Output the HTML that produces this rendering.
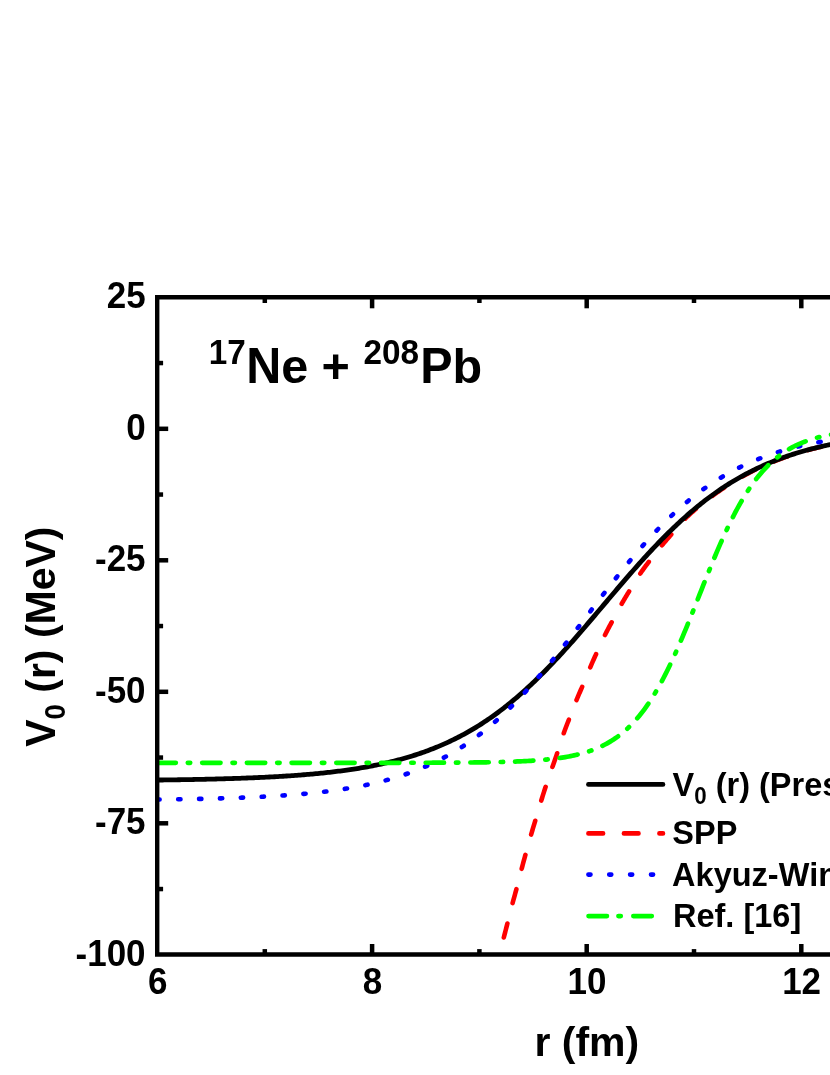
<!DOCTYPE html>
<html>
<head>
<meta charset="utf-8">
<title>17Ne + 208Pb</title>
<style>
html,body{margin:0;padding:0;background:#fff;}
body{width:830px;height:1075px;overflow:hidden;}
svg{display:block;will-change:transform;}
text{font-family:"Liberation Sans",sans-serif;font-weight:bold;fill:#000;font-kerning:none;white-space:pre;}
</style>
</head>
<body>
<svg width="830" height="1075" viewBox="0 0 830 1075">
<rect x="0" y="0" width="830" height="1075" fill="#fff"/>
<defs>
<clipPath id="plot"><rect x="157.5" y="297.3" width="830" height="657.2"/></clipPath>
</defs>

<!-- data curves -->
<g fill="none" stroke-linecap="round" stroke-linejoin="round" clip-path="url(#plot)">
<path d="M503.80,937.50 L504.07,936.46 L504.34,935.43 L504.61,934.39 L504.87,933.36 L505.14,932.32 L505.41,931.28 L505.68,930.25 L505.94,929.21 L506.21,928.17 L506.47,927.14 L506.73,926.10 L507.00,925.06 L507.26,924.03 L507.52,922.99 L507.78,921.95 L508.04,920.91 L508.30,919.87 L508.56,918.84 L508.82,917.80 L509.07,916.76 L509.33,915.72 L509.59,914.68 L509.85,913.64 L510.11,912.60 L510.37,911.57 L510.63,910.53 L510.90,909.49 L511.17,908.46 L511.44,907.42 L511.71,906.39 L511.98,905.35 L512.26,904.32 L512.53,903.29 L512.81,902.25 L513.10,901.22 L513.38,900.19 L513.67,899.16 L513.95,898.13 L514.24,897.10 L514.52,896.07 L514.81,895.04 L515.09,894.00 L515.38,892.97 L515.66,891.94 L515.94,890.91 L516.23,889.88 L516.51,888.85 L516.79,887.82 L517.07,886.78 L517.34,885.75 L517.62,884.71 L517.89,883.68 L518.15,882.64 L518.42,881.61 L518.68,880.57 L518.95,879.53 L519.21,878.50 L519.47,877.46 L519.73,876.42 L519.99,875.38 L520.25,874.35 L520.51,873.31 L520.77,872.27 L521.04,871.23 L521.30,870.20 L521.57,869.16 L521.84,868.13 L522.11,867.09 L522.38,866.05 L522.65,865.02 L522.93,863.99 L523.20,862.95 L523.48,861.92 L523.76,860.89 L524.04,859.85 L524.32,858.82 L524.60,857.79 L524.89,856.76 L525.18,855.73 L525.46,854.70 L525.75,853.66 L526.04,852.63 L526.32,851.60 L526.61,850.57 L526.89,849.54 L527.18,848.51 L527.46,847.48 L527.75,846.45 L528.03,845.41 L528.32,844.38 L528.61,843.35 L528.90,842.32 L529.19,841.29 L529.48,840.26 L529.78,839.24 L530.07,838.21 L530.37,837.18 L530.66,836.15 L530.96,835.12 L531.26,834.10 L531.56,833.07 L531.87,832.04 L532.17,831.02 L532.48,829.99 L532.78,828.97 L533.09,827.94 L533.39,826.91 L533.70,825.89 L534.01,824.86 L534.31,823.84 L534.62,822.82 L534.93,821.79 L535.24,820.77 L535.55,819.74 L535.85,818.72 L536.16,817.69 L536.47,816.67 L536.77,815.64 L537.07,814.61 L537.38,813.59 L537.68,812.56 L537.98,811.53 L538.28,810.51 L538.59,809.48 L538.89,808.46 L539.20,807.43 L539.50,806.40 L539.81,805.38 L540.11,804.35 L540.42,803.33 L540.73,802.30 L541.04,801.28 L541.35,800.26 L541.67,799.23 L541.98,798.21 L542.30,797.19 L542.62,796.17 L542.94,795.15 L543.26,794.13 L543.58,793.11 L543.91,792.09 L544.24,791.07 L544.57,790.05 L544.90,789.03 L545.23,788.02 L545.57,787.00 L545.91,785.99 L546.25,784.97 L546.58,783.96 L546.92,782.94 L547.26,781.93 L547.60,780.91 L547.95,779.90 L548.29,778.88 L548.63,777.87 L548.98,776.86 L549.33,775.85 L549.67,774.83 L550.02,773.82 L550.37,772.81 L550.73,771.80 L551.08,770.79 L551.43,769.78 L551.78,768.77 L552.14,767.76 L552.49,766.75 L552.85,765.74 L553.21,764.73 L553.56,763.72 L553.92,762.71 L554.27,761.70 L554.62,760.69 L554.97,759.68 L555.32,758.67 L555.67,757.66 L556.01,756.65 L556.36,755.63 L556.70,754.62 L557.04,753.61 L557.38,752.59 L557.71,751.57 L558.05,750.56 L558.38,749.54 L558.70,748.52 L559.03,747.50 L559.35,746.48 L559.68,745.46 L560.00,744.44 L560.32,743.43 L560.65,742.41 L560.98,741.39 L561.31,740.37 L561.64,739.36 L561.98,738.34 L562.32,737.33 L562.66,736.32 L563.01,735.31 L563.36,734.30 L563.71,733.29 L564.07,732.28 L564.44,731.28 L564.81,730.28 L565.18,729.27 L565.55,728.27 L565.93,727.27 L566.31,726.27 L566.69,725.27 L567.07,724.28 L567.46,723.28 L567.85,722.28 L568.24,721.29 L568.63,720.29 L569.02,719.29 L569.41,718.30 L569.80,717.30 L570.18,716.30 L570.56,715.30 L570.95,714.30 L571.32,713.30 L571.70,712.30 L572.08,711.30 L572.46,710.30 L572.84,709.30 L573.22,708.30 L573.61,707.31 L573.99,706.31 L574.38,705.31 L574.77,704.32 L575.17,703.32 L575.57,702.33 L575.97,701.34 L576.38,700.35 L576.78,699.37 L577.20,698.38 L577.62,697.40 L578.03,696.41 L578.45,695.43 L578.87,694.45 L579.29,693.46 L579.72,692.48 L580.14,691.50 L580.56,690.52 L580.99,689.54 L581.41,688.55 L581.84,687.57 L582.27,686.59 L582.69,685.61 L583.11,684.63 L583.52,683.64 L583.94,682.65 L584.35,681.67 L584.76,680.68 L585.16,679.69 L585.56,678.70 L585.97,677.71 L586.37,676.72 L586.77,675.73 L587.18,674.73 L587.58,673.74 L587.98,672.75 L588.39,671.76 L588.80,670.77 L589.21,669.79 L589.62,668.80 L590.04,667.82 L590.46,666.83 L590.88,665.85 L591.30,664.87 L591.73,663.88 L592.16,662.90 L592.59,661.93 L593.02,660.95 L593.45,659.97 L593.89,658.99 L594.33,658.02 L594.77,657.04 L595.21,656.07 L595.65,655.09 L596.09,654.12 L596.54,653.14 L596.98,652.17 L597.42,651.20 L597.86,650.22 L598.31,649.25 L598.75,648.27 L599.18,647.29 L599.62,646.32 L600.07,645.34 L600.51,644.37 L600.96,643.40 L601.41,642.43 L601.86,641.46 L602.32,640.50 L602.78,639.53 L603.24,638.57 L603.71,637.60 L604.18,636.64 L604.65,635.69 L605.13,634.73 L605.61,633.77 L606.09,632.82 L606.58,631.87 L607.07,630.92 L607.56,629.97 L608.05,629.02 L608.55,628.07 L609.05,627.13 L609.55,626.18 L610.05,625.24 L610.56,624.30 L611.07,623.35 L611.58,622.41 L612.09,621.47 L612.59,620.53 L613.10,619.59 L613.61,618.64 L614.11,617.70 L614.61,616.76 L615.11,615.81 L615.62,614.86 L616.12,613.92 L616.62,612.98 L617.13,612.03 L617.64,611.09 L618.15,610.15 L618.66,609.22 L619.18,608.28 L619.69,607.34 L620.22,606.41 L620.74,605.48 L621.27,604.55 L621.80,603.62 L622.33,602.69 L622.87,601.77 L623.41,600.84 L623.95,599.92 L624.49,599.00 L625.04,598.08 L625.59,597.16 L626.14,596.25 L626.69,595.33 L627.24,594.42 L627.80,593.50 L628.36,592.59 L628.92,591.68 L629.48,590.77 L630.04,589.85 L630.59,588.94 L631.15,588.03 L631.71,587.11 L632.26,586.20 L632.81,585.28 L633.37,584.36 L633.92,583.45 L634.48,582.54 L635.05,581.63 L635.61,580.72 L636.18,579.82 L636.76,578.92 L637.33,578.02 L637.92,577.12 L638.50,576.23 L639.09,575.34 L639.68,574.45 L640.28,573.57 L640.89,572.68 L641.49,571.81 L642.10,570.93 L642.72,570.06 L643.34,569.19 L643.96,568.32 L644.59,567.45 L645.23,566.59 L645.86,565.74 L646.51,564.88 L647.15,564.03 L647.80,563.18 L648.46,562.33 L649.11,561.48 L649.76,560.63 L650.41,559.79 L651.07,558.94 L651.72,558.09 L652.37,557.24 L653.03,556.40 L653.68,555.55 L654.34,554.70 L654.99,553.86 L655.66,553.02 L656.32,552.18 L656.99,551.34 L657.66,550.51 L658.33,549.68 L659.00,548.85 L659.68,548.02 L660.36,547.20 L661.05,546.38 L661.73,545.55 L662.42,544.74 L663.11,543.92 L663.80,543.11 L664.50,542.29 L665.19,541.48 L665.89,540.67 L666.58,539.86 L667.28,539.05 L667.98,538.23 L668.68,537.42 L669.38,536.62 L670.08,535.81 L670.78,535.00 L671.48,534.19 L672.17,533.38 L672.87,532.56 L673.56,531.75 L674.25,530.93 L674.94,530.12 L675.63,529.30 L676.33,528.49 L677.02,527.68 L677.72,526.87 L678.43,526.06 L679.13,525.26 L679.84,524.46 L680.55,523.67 L681.27,522.87 L681.99,522.09 L682.71,521.31 L683.45,520.53 L684.18,519.76 L684.93,518.99 L685.67,518.23 L686.43,517.48 L687.19,516.73 L687.95,515.99 L688.73,515.25 L689.50,514.52 L690.29,513.80 L691.08,513.08 L691.88,512.37 L692.68,511.66 L693.49,510.96 L694.30,510.27 L695.12,509.57 L695.93,508.88 L696.75,508.19 L697.58,507.51 L698.40,506.83 L699.22,506.15 L700.05,505.47 L700.88,504.79 L701.71,504.12 L702.55,503.45 L703.39,502.78 L704.22,502.12 L705.06,501.46 L705.91,500.80 L706.75,500.14 L707.60,499.49 L708.45,498.84 L709.30,498.19 L710.16,497.55 L711.01,496.91 L711.87,496.27 L712.73,495.63 L713.59,495.00 L714.46,494.37 L715.33,493.75 L716.20,493.12 L717.07,492.50 L717.94,491.89 L718.82,491.27 L719.70,490.66 L720.58,490.06 L721.46,489.45 L722.35,488.85 L723.23,488.25 L724.12,487.66 L725.01,487.07 L725.91,486.48 L726.80,485.90 L727.70,485.32 L728.60,484.74 L729.51,484.17 L730.41,483.60 L731.32,483.03 L732.23,482.46 L733.14,481.90 L734.05,481.35 L734.97,480.80 L735.89,480.25 L736.81,479.70 L737.73,479.16 L738.65,478.62 L739.58,478.09 L740.51,477.55 L741.44,477.03 L742.37,476.50 L743.31,475.98 L744.24,475.47 L745.18,474.95 L746.12,474.44 L747.06,473.94 L748.01,473.44 L748.96,472.94 L749.90,472.44 L750.86,471.95 L751.81,471.47 L752.76,470.98 L753.72,470.50 L754.68,470.03 L755.64,469.56 L756.60,469.09 L757.56,468.63 L758.53,468.17 L759.50,467.71 L760.46,467.26 L761.44,466.81 L762.41,466.36 L763.38,465.92 L764.36,465.48 L765.34,465.05 L766.32,464.62 L767.30,464.19 L768.28,463.77 L769.26,463.35 L770.25,462.94 L771.24,462.53 L772.23,462.12 L773.22,461.72 L774.21,461.32 L775.20,460.92 L776.20,460.53 L777.20,460.14 L778.19,459.75 L779.19,459.37 L780.19,459.00 L781.20,458.62 L782.20,458.25 L783.21,457.89 L784.21,457.52 L785.22,457.16 L786.23,456.81 L787.24,456.46 L788.25,456.11 L789.26,455.76 L790.28,455.42 L791.29,455.08 L792.31,454.75 L793.33,454.42 L794.34,454.09 L795.36,453.77 L796.38,453.45 L797.41,453.13 L798.43,452.82 L799.45,452.51 L800.48,452.20 L801.50,451.90 L802.53,451.60 L803.56,451.30 L804.59,451.01 L805.62,450.72 L806.65,450.43 L807.68,450.15 L808.71,449.87 L809.75,449.59 L810.78,449.31 L811.81,449.04 L812.85,448.78 L813.89,448.51 L814.92,448.25 L815.96,447.99 L817.00,447.73 L818.04,447.48 L819.08,447.23 L820.12,446.98 L821.16,446.74 L822.21,446.50 L823.25,446.26 L824.29,446.03 L825.34,445.79 L826.38,445.56 L827.43,445.34 L828.47,445.11 L829.52,444.89 L830.57,444.67 L831.62,444.46 L832.67,444.24 L833.71,444.03 L834.76,443.82 L835.81,443.62 L836.86,443.41 L837.91,443.21 L838.96,443.00 L840.02,442.80 L841.07,442.60 L842.12,442.40 L843.17,442.20 L844.22,442.00" stroke="#ff0000" stroke-width="4.6" stroke-dasharray="14.4 21.1" stroke-dashoffset="0"/>
<path d="M157.50,780.04 L159.22,780.02 L160.94,780.00 L162.66,779.98 L164.38,779.96 L166.11,779.94 L167.83,779.91 L169.55,779.89 L171.27,779.87 L172.99,779.84 L174.71,779.82 L176.43,779.79 L178.15,779.76 L179.87,779.74 L181.60,779.71 L183.32,779.68 L185.04,779.65 L186.76,779.62 L188.48,779.59 L190.20,779.56 L191.92,779.53 L193.64,779.50 L195.36,779.47 L197.09,779.43 L198.81,779.40 L200.53,779.36 L202.25,779.32 L203.97,779.29 L205.69,779.25 L207.41,779.21 L209.13,779.17 L210.85,779.13 L212.58,779.09 L214.30,779.05 L216.02,779.00 L217.74,778.96 L219.46,778.91 L221.18,778.87 L222.90,778.82 L224.62,778.77 L226.34,778.72 L228.07,778.67 L229.79,778.62 L231.51,778.56 L233.23,778.51 L234.95,778.45 L236.67,778.39 L238.39,778.34 L240.11,778.28 L241.83,778.21 L243.56,778.15 L245.28,778.09 L247.00,778.02 L248.72,777.95 L250.44,777.89 L252.16,777.82 L253.88,777.74 L255.60,777.67 L257.32,777.59 L259.05,777.52 L260.77,777.44 L262.49,777.36 L264.21,777.28 L265.93,777.19 L267.65,777.11 L269.37,777.02 L271.09,776.93 L272.81,776.83 L274.53,776.74 L276.26,776.64 L277.98,776.54 L279.70,776.44 L281.42,776.34 L283.14,776.23 L284.86,776.13 L286.58,776.02 L288.30,775.90 L290.02,775.79 L291.75,775.67 L293.47,775.55 L295.19,775.42 L296.91,775.30 L298.63,775.17 L300.35,775.04 L302.07,774.90 L303.79,774.76 L305.51,774.62 L307.24,774.48 L308.96,774.33 L310.68,774.18 L312.40,774.02 L314.12,773.87 L315.84,773.70 L317.56,773.54 L319.28,773.37 L321.00,773.20 L322.73,773.02 L324.45,772.84 L326.17,772.66 L327.89,772.47 L329.61,772.27 L331.33,772.08 L333.05,771.88 L334.77,771.67 L336.49,771.46 L338.22,771.24 L339.94,771.02 L341.66,770.80 L343.38,770.57 L345.10,770.34 L346.82,770.10 L348.54,769.85 L350.26,769.60 L351.98,769.34 L353.71,769.08 L355.43,768.82 L357.15,768.54 L358.87,768.26 L360.59,767.98 L362.31,767.69 L364.03,767.39 L365.75,767.09 L367.47,766.78 L369.20,766.46 L370.92,766.13 L372.64,765.80 L374.36,765.47 L376.08,765.12 L377.80,764.77 L379.52,764.41 L381.24,764.04 L382.96,763.66 L384.69,763.28 L386.41,762.89 L388.13,762.49 L389.85,762.08 L391.57,761.67 L393.29,761.24 L395.01,760.81 L396.73,760.36 L398.45,759.91 L400.18,759.45 L401.90,758.98 L403.62,758.50 L405.34,758.01 L407.06,757.51 L408.78,757.00 L410.50,756.48 L412.22,755.95 L413.94,755.41 L415.67,754.85 L417.39,754.29 L419.11,753.72 L420.83,753.13 L422.55,752.53 L424.27,751.92 L425.99,751.30 L427.71,750.67 L429.43,750.02 L431.16,749.37 L432.88,748.70 L434.60,748.01 L436.32,747.32 L438.04,746.61 L439.76,745.89 L441.48,745.15 L443.20,744.40 L444.92,743.64 L446.65,742.86 L448.37,742.07 L450.09,741.26 L451.81,740.44 L453.53,739.60 L455.25,738.75 L456.97,737.89 L458.69,737.01 L460.41,736.11 L462.14,735.20 L463.86,734.27 L465.58,733.33 L467.30,732.37 L469.02,731.39 L470.74,730.40 L472.46,729.39 L474.18,728.37 L475.90,727.33 L477.63,726.27 L479.35,725.19 L481.07,724.10 L482.79,722.99 L484.51,721.86 L486.23,720.72 L487.95,719.55 L489.67,718.37 L491.39,717.17 L493.12,715.96 L494.84,714.73 L496.56,713.47 L498.28,712.20 L500.00,710.92 L501.72,709.61 L503.44,708.29 L505.16,706.95 L506.88,705.59 L508.60,704.21 L510.33,702.81 L512.05,701.40 L513.77,699.97 L515.49,698.51 L517.21,697.05 L518.93,695.56 L520.65,694.06 L522.37,692.53 L524.09,691.00 L525.82,689.44 L527.54,687.86 L529.26,686.27 L530.98,684.66 L532.70,683.04 L534.42,681.40 L536.14,679.74 L537.86,678.06 L539.58,676.37 L541.31,674.66 L543.03,672.94 L544.75,671.20 L546.47,669.45 L548.19,667.68 L549.91,665.90 L551.63,664.10 L553.35,662.29 L555.07,660.46 L556.80,658.62 L558.52,656.77 L560.24,654.90 L561.96,653.03 L563.68,651.14 L565.40,649.24 L567.12,647.32 L568.84,645.40 L570.56,643.47 L572.29,641.53 L574.01,639.57 L575.73,637.61 L577.45,635.64 L579.17,633.67 L580.89,631.68 L582.61,629.69 L584.33,627.69 L586.05,625.69 L587.78,623.68 L589.50,621.66 L591.22,619.64 L592.94,617.62 L594.66,615.59 L596.38,613.56 L598.10,611.53 L599.82,609.49 L601.54,607.46 L603.27,605.42 L604.99,603.39 L606.71,601.35 L608.43,599.32 L610.15,597.28 L611.87,595.25 L613.59,593.22 L615.31,591.20 L617.03,589.17 L618.76,587.15 L620.48,585.14 L622.20,583.13 L623.92,581.13 L625.64,579.13 L627.36,577.14 L629.08,575.16 L630.80,573.18 L632.52,571.22 L634.25,569.26 L635.97,567.31 L637.69,565.37 L639.41,563.44 L641.13,561.52 L642.85,559.61 L644.57,557.72 L646.29,555.83 L648.01,553.96 L649.74,552.09 L651.46,550.25 L653.18,548.41 L654.90,546.59 L656.62,544.78 L658.34,542.99 L660.06,541.21 L661.78,539.44 L663.50,537.70 L665.23,535.96 L666.95,534.24 L668.67,532.54 L670.39,530.85 L672.11,529.18 L673.83,527.53 L675.55,525.89 L677.27,524.27 L678.99,522.67 L680.72,521.08 L682.44,519.51 L684.16,517.96 L685.88,516.43 L687.60,514.91 L689.32,513.41 L691.04,511.93 L692.76,510.47 L694.48,509.02 L696.21,507.60 L697.93,506.19 L699.65,504.80 L701.37,503.42 L703.09,502.07 L704.81,500.73 L706.53,499.42 L708.25,498.12 L709.97,496.83 L711.70,495.57 L713.42,494.32 L715.14,493.09 L716.86,491.88 L718.58,490.69 L720.30,489.52 L722.02,488.36 L723.74,487.22 L725.46,486.10 L727.19,484.99 L728.91,483.90 L730.63,482.83 L732.35,481.78 L734.07,480.74 L735.79,479.72 L737.51,478.72 L739.23,477.73 L740.95,476.76 L742.67,475.81 L744.40,474.87 L746.12,473.95 L747.84,473.04 L749.56,472.15 L751.28,471.27 L753.00,470.41 L754.72,469.56 L756.44,468.73 L758.16,467.92 L759.89,467.11 L761.61,466.33 L763.33,465.55 L765.05,464.79 L766.77,464.05 L768.49,463.32 L770.21,462.60 L771.93,461.89 L773.65,461.20 L775.38,460.52 L777.10,459.85 L778.82,459.20 L780.54,458.56 L782.26,457.93 L783.98,457.31 L785.70,456.71 L787.42,456.11 L789.14,455.53 L790.87,454.96 L792.59,454.40 L794.31,453.85 L796.03,453.31 L797.75,452.78 L799.47,452.27 L801.19,451.76 L802.91,451.26 L804.63,450.77 L806.36,450.30 L808.08,449.83 L809.80,449.37 L811.52,448.92 L813.24,448.48 L814.96,448.05 L816.68,447.63 L818.40,447.21 L820.12,446.81 L821.85,446.41 L823.57,446.02 L825.29,445.64 L827.01,445.27 L828.73,444.90 L830.45,444.55 L832.17,444.20 L833.89,443.85 L835.61,443.52 L837.34,443.19 L839.06,442.87 L840.78,442.55 L842.50,442.24 L844.22,441.94" stroke="#000" stroke-width="4.8"/>
<path d="M157.50,799.55 L159.22,799.53 L160.94,799.51 L162.66,799.48 L164.38,799.46 L166.11,799.44 L167.83,799.42 L169.55,799.39 L171.27,799.37 L172.99,799.34 L174.71,799.32 L176.43,799.29 L178.15,799.26 L179.87,799.24 L181.60,799.21 L183.32,799.18 L185.04,799.15 L186.76,799.12 L188.48,799.09 L190.20,799.06 L191.92,799.03 L193.64,798.99 L195.36,798.96 L197.09,798.92 L198.81,798.89 L200.53,798.85 L202.25,798.81 L203.97,798.77 L205.69,798.73 L207.41,798.69 L209.13,798.65 L210.85,798.61 L212.58,798.57 L214.30,798.52 L216.02,798.48 L217.74,798.43 L219.46,798.38 L221.18,798.33 L222.90,798.28 L224.62,798.23 L226.34,798.18 L228.07,798.12 L229.79,798.07 L231.51,798.01 L233.23,797.95 L234.95,797.89 L236.67,797.83 L238.39,797.77 L240.11,797.71 L241.83,797.64 L243.56,797.57 L245.28,797.50 L247.00,797.43 L248.72,797.36 L250.44,797.29 L252.16,797.21 L253.88,797.14 L255.60,797.06 L257.32,796.97 L259.05,796.89 L260.77,796.81 L262.49,796.72 L264.21,796.63 L265.93,796.54 L267.65,796.44 L269.37,796.35 L271.09,796.25 L272.81,796.15 L274.53,796.04 L276.26,795.94 L277.98,795.83 L279.70,795.72 L281.42,795.61 L283.14,795.49 L284.86,795.37 L286.58,795.25 L288.30,795.12 L290.02,795.00 L291.75,794.87 L293.47,794.73 L295.19,794.59 L296.91,794.45 L298.63,794.31 L300.35,794.16 L302.07,794.01 L303.79,793.86 L305.51,793.70 L307.24,793.54 L308.96,793.37 L310.68,793.20 L312.40,793.03 L314.12,792.85 L315.84,792.67 L317.56,792.48 L319.28,792.29 L321.00,792.10 L322.73,791.90 L324.45,791.69 L326.17,791.48 L327.89,791.27 L329.61,791.05 L331.33,790.82 L333.05,790.59 L334.77,790.36 L336.49,790.12 L338.22,789.87 L339.94,789.62 L341.66,789.36 L343.38,789.10 L345.10,788.83 L346.82,788.55 L348.54,788.27 L350.26,787.98 L351.98,787.69 L353.71,787.38 L355.43,787.08 L357.15,786.76 L358.87,786.44 L360.59,786.10 L362.31,785.77 L364.03,785.42 L365.75,785.07 L367.47,784.70 L369.20,784.33 L370.92,783.96 L372.64,783.57 L374.36,783.17 L376.08,782.77 L377.80,782.35 L379.52,781.93 L381.24,781.50 L382.96,781.06 L384.69,780.61 L386.41,780.15 L388.13,779.67 L389.85,779.19 L391.57,778.70 L393.29,778.20 L395.01,777.68 L396.73,777.16 L398.45,776.62 L400.18,776.07 L401.90,775.51 L403.62,774.94 L405.34,774.36 L407.06,773.76 L408.78,773.15 L410.50,772.53 L412.22,771.90 L413.94,771.25 L415.67,770.59 L417.39,769.91 L419.11,769.22 L420.83,768.52 L422.55,767.80 L424.27,767.07 L425.99,766.32 L427.71,765.56 L429.43,764.78 L431.16,763.99 L432.88,763.18 L434.60,762.36 L436.32,761.52 L438.04,760.66 L439.76,759.79 L441.48,758.90 L443.20,757.99 L444.92,757.07 L446.65,756.13 L448.37,755.17 L450.09,754.19 L451.81,753.20 L453.53,752.18 L455.25,751.15 L456.97,750.10 L458.69,749.03 L460.41,747.94 L462.14,746.83 L463.86,745.71 L465.58,744.56 L467.30,743.39 L469.02,742.21 L470.74,741.00 L472.46,739.77 L474.18,738.53 L475.90,737.26 L477.63,735.97 L479.35,734.66 L481.07,733.34 L482.79,731.98 L484.51,730.61 L486.23,729.22 L487.95,727.81 L489.67,726.37 L491.39,724.92 L493.12,723.44 L494.84,721.94 L496.56,720.42 L498.28,718.88 L500.00,717.32 L501.72,715.74 L503.44,714.13 L505.16,712.51 L506.88,710.86 L508.60,709.19 L510.33,707.51 L512.05,705.80 L513.77,704.07 L515.49,702.32 L517.21,700.55 L518.93,698.76 L520.65,696.95 L522.37,695.12 L524.09,693.27 L525.82,691.40 L527.54,689.51 L529.26,687.61 L530.98,685.68 L532.70,683.74 L534.42,681.78 L536.14,679.80 L537.86,677.80 L539.58,675.79 L541.31,673.77 L543.03,671.72 L544.75,669.66 L546.47,667.59 L548.19,665.50 L549.91,663.40 L551.63,661.28 L553.35,659.15 L555.07,657.01 L556.80,654.86 L558.52,652.69 L560.24,650.52 L561.96,648.33 L563.68,646.14 L565.40,643.93 L567.12,641.72 L568.84,639.50 L570.56,637.27 L572.29,635.03 L574.01,632.79 L575.73,630.54 L577.45,628.29 L579.17,626.04 L580.89,623.78 L582.61,621.52 L584.33,619.25 L586.05,616.99 L587.78,614.72 L589.50,612.45 L591.22,610.19 L592.94,607.92 L594.66,605.66 L596.38,603.40 L598.10,601.14 L599.82,598.89 L601.54,596.64 L603.27,594.40 L604.99,592.16 L606.71,589.93 L608.43,587.71 L610.15,585.49 L611.87,583.29 L613.59,581.09 L615.31,578.90 L617.03,576.72 L618.76,574.56 L620.48,572.40 L622.20,570.25 L623.92,568.12 L625.64,566.00 L627.36,563.90 L629.08,561.81 L630.80,559.73 L632.52,557.67 L634.25,555.62 L635.97,553.59 L637.69,551.57 L639.41,549.57 L641.13,547.59 L642.85,545.63 L644.57,543.68 L646.29,541.75 L648.01,539.84 L649.74,537.95 L651.46,536.07 L653.18,534.22 L654.90,532.38 L656.62,530.57 L658.34,528.77 L660.06,527.00 L661.78,525.24 L663.50,523.51 L665.23,521.79 L666.95,520.10 L668.67,518.43 L670.39,516.78 L672.11,515.15 L673.83,513.54 L675.55,511.95 L677.27,510.38 L678.99,508.84 L680.72,507.31 L682.44,505.81 L684.16,504.33 L685.88,502.86 L687.60,501.43 L689.32,500.01 L691.04,498.61 L692.76,497.23 L694.48,495.88 L696.21,494.54 L697.93,493.23 L699.65,491.94 L701.37,490.66 L703.09,489.41 L704.81,488.18 L706.53,486.97 L708.25,485.78 L709.97,484.61 L711.70,483.46 L713.42,482.32 L715.14,481.21 L716.86,480.12 L718.58,479.04 L720.30,477.99 L722.02,476.95 L723.74,475.93 L725.46,474.93 L727.19,473.95 L728.91,472.99 L730.63,472.04 L732.35,471.11 L734.07,470.20 L735.79,469.31 L737.51,468.43 L739.23,467.57 L740.95,466.73 L742.67,465.90 L744.40,465.09 L746.12,464.29 L747.84,463.51 L749.56,462.74 L751.28,461.99 L753.00,461.26 L754.72,460.54 L756.44,459.83 L758.16,459.14 L759.89,458.46 L761.61,457.80 L763.33,457.14 L765.05,456.51 L766.77,455.88 L768.49,455.27 L770.21,454.67 L771.93,454.08 L773.65,453.51 L775.38,452.95 L777.10,452.40 L778.82,451.86 L780.54,451.33 L782.26,450.81 L783.98,450.31 L785.70,449.81 L787.42,449.33 L789.14,448.85 L790.87,448.39 L792.59,447.93 L794.31,447.49 L796.03,447.06 L797.75,446.63 L799.47,446.21 L801.19,445.81 L802.91,445.41 L804.63,445.02 L806.36,444.64 L808.08,444.27 L809.80,443.90 L811.52,443.55 L813.24,443.20 L814.96,442.86 L816.68,442.53 L818.40,442.20 L820.12,441.88 L821.85,441.57 L823.57,441.27 L825.29,440.97 L827.01,440.68 L828.73,440.40 L830.45,440.12 L832.17,439.85 L833.89,439.58 L835.61,439.32 L837.34,439.07 L839.06,438.82 L840.78,438.58 L842.50,438.34 L844.22,438.11" stroke="#0000ff" stroke-width="4.6" stroke-dasharray="2.3 18.58" stroke-dashoffset="-20.7"/>
<path d="M157.50,762.83 L159.22,762.83 L160.94,762.83 L162.66,762.83 L164.38,762.83 L166.11,762.83 L167.83,762.83 L169.55,762.83 L171.27,762.83 L172.99,762.83 L174.71,762.83 L176.43,762.83 L178.15,762.83 L179.87,762.83 L181.60,762.83 L183.32,762.83 L185.04,762.83 L186.76,762.83 L188.48,762.83 L190.20,762.83 L191.92,762.83 L193.64,762.83 L195.36,762.83 L197.09,762.83 L198.81,762.83 L200.53,762.83 L202.25,762.83 L203.97,762.83 L205.69,762.83 L207.41,762.83 L209.13,762.83 L210.85,762.83 L212.58,762.83 L214.30,762.83 L216.02,762.83 L217.74,762.83 L219.46,762.83 L221.18,762.83 L222.90,762.83 L224.62,762.83 L226.34,762.83 L228.07,762.83 L229.79,762.83 L231.51,762.83 L233.23,762.83 L234.95,762.83 L236.67,762.83 L238.39,762.83 L240.11,762.83 L241.83,762.83 L243.56,762.83 L245.28,762.83 L247.00,762.83 L248.72,762.83 L250.44,762.83 L252.16,762.83 L253.88,762.83 L255.60,762.83 L257.32,762.83 L259.05,762.83 L260.77,762.83 L262.49,762.82 L264.21,762.82 L265.93,762.82 L267.65,762.82 L269.37,762.82 L271.09,762.82 L272.81,762.82 L274.53,762.82 L276.26,762.82 L277.98,762.82 L279.70,762.82 L281.42,762.82 L283.14,762.82 L284.86,762.82 L286.58,762.82 L288.30,762.82 L290.02,762.82 L291.75,762.82 L293.47,762.82 L295.19,762.82 L296.91,762.82 L298.63,762.82 L300.35,762.82 L302.07,762.82 L303.79,762.82 L305.51,762.82 L307.24,762.82 L308.96,762.82 L310.68,762.82 L312.40,762.82 L314.12,762.82 L315.84,762.82 L317.56,762.82 L319.28,762.82 L321.00,762.82 L322.73,762.82 L324.45,762.82 L326.17,762.82 L327.89,762.82 L329.61,762.82 L331.33,762.82 L333.05,762.82 L334.77,762.82 L336.49,762.82 L338.22,762.82 L339.94,762.82 L341.66,762.82 L343.38,762.82 L345.10,762.82 L346.82,762.82 L348.54,762.82 L350.26,762.82 L351.98,762.82 L353.71,762.82 L355.43,762.82 L357.15,762.81 L358.87,762.81 L360.59,762.81 L362.31,762.81 L364.03,762.81 L365.75,762.81 L367.47,762.81 L369.20,762.81 L370.92,762.81 L372.64,762.81 L374.36,762.81 L376.08,762.81 L377.80,762.81 L379.52,762.80 L381.24,762.80 L382.96,762.80 L384.69,762.80 L386.41,762.80 L388.13,762.80 L389.85,762.80 L391.57,762.80 L393.29,762.79 L395.01,762.79 L396.73,762.79 L398.45,762.79 L400.18,762.79 L401.90,762.78 L403.62,762.78 L405.34,762.78 L407.06,762.78 L408.78,762.77 L410.50,762.77 L412.22,762.77 L413.94,762.77 L415.67,762.76 L417.39,762.76 L419.11,762.76 L420.83,762.75 L422.55,762.75 L424.27,762.74 L425.99,762.74 L427.71,762.74 L429.43,762.73 L431.16,762.73 L432.88,762.72 L434.60,762.71 L436.32,762.71 L438.04,762.70 L439.76,762.70 L441.48,762.69 L443.20,762.68 L444.92,762.67 L446.65,762.66 L448.37,762.66 L450.09,762.65 L451.81,762.64 L453.53,762.63 L455.25,762.62 L456.97,762.61 L458.69,762.59 L460.41,762.58 L462.14,762.57 L463.86,762.56 L465.58,762.54 L467.30,762.53 L469.02,762.51 L470.74,762.49 L472.46,762.48 L474.18,762.46 L475.90,762.44 L477.63,762.42 L479.35,762.39 L481.07,762.37 L482.79,762.35 L484.51,762.32 L486.23,762.29 L487.95,762.27 L489.67,762.24 L491.39,762.20 L493.12,762.17 L494.84,762.14 L496.56,762.10 L498.28,762.06 L500.00,762.02 L501.72,761.98 L503.44,761.93 L505.16,761.88 L506.88,761.83 L508.60,761.78 L510.33,761.73 L512.05,761.67 L513.77,761.61 L515.49,761.54 L517.21,761.47 L518.93,761.40 L520.65,761.32 L522.37,761.24 L524.09,761.16 L525.82,761.07 L527.54,760.98 L529.26,760.88 L530.98,760.78 L532.70,760.67 L534.42,760.55 L536.14,760.43 L537.86,760.31 L539.58,760.17 L541.31,760.03 L543.03,759.88 L544.75,759.73 L546.47,759.56 L548.19,759.39 L549.91,759.21 L551.63,759.02 L553.35,758.82 L555.07,758.61 L556.80,758.38 L558.52,758.15 L560.24,757.90 L561.96,757.64 L563.68,757.37 L565.40,757.08 L567.12,756.78 L568.84,756.47 L570.56,756.13 L572.29,755.78 L574.01,755.41 L575.73,755.03 L577.45,754.62 L579.17,754.19 L580.89,753.74 L582.61,753.27 L584.33,752.78 L586.05,752.26 L587.78,751.71 L589.50,751.14 L591.22,750.54 L592.94,749.90 L594.66,749.24 L596.38,748.55 L598.10,747.82 L599.82,747.05 L601.54,746.25 L603.27,745.41 L604.99,744.53 L606.71,743.61 L608.43,742.64 L610.15,741.63 L611.87,740.58 L613.59,739.47 L615.31,738.31 L617.03,737.10 L618.76,735.84 L620.48,734.52 L622.20,733.14 L623.92,731.70 L625.64,730.20 L627.36,728.63 L629.08,727.00 L630.80,725.30 L632.52,723.53 L634.25,721.69 L635.97,719.77 L637.69,717.78 L639.41,715.71 L641.13,713.57 L642.85,711.34 L644.57,709.03 L646.29,706.64 L648.01,704.16 L649.74,701.60 L651.46,698.95 L653.18,696.22 L654.90,693.39 L656.62,690.49 L658.34,687.49 L660.06,684.41 L661.78,681.24 L663.50,677.98 L665.23,674.64 L666.95,671.22 L668.67,667.72 L670.39,664.13 L672.11,660.47 L673.83,656.74 L675.55,652.93 L677.27,649.06 L678.99,645.12 L680.72,641.11 L682.44,637.06 L684.16,632.94 L685.88,628.78 L687.60,624.58 L689.32,620.34 L691.04,616.07 L692.76,611.77 L694.48,607.44 L696.21,603.11 L697.93,598.76 L699.65,594.41 L701.37,590.06 L703.09,585.71 L704.81,581.38 L706.53,577.07 L708.25,572.79 L709.97,568.53 L711.70,564.31 L713.42,560.13 L715.14,556.00 L716.86,551.92 L718.58,547.89 L720.30,543.93 L722.02,540.02 L723.74,536.19 L725.46,532.42 L727.19,528.73 L728.91,525.11 L730.63,521.57 L732.35,518.12 L734.07,514.74 L735.79,511.45 L737.51,508.25 L739.23,505.13 L740.95,502.09 L742.67,499.15 L744.40,496.29 L746.12,493.52 L747.84,490.84 L749.56,488.24 L751.28,485.73 L753.00,483.30 L754.72,480.95 L756.44,478.69 L758.16,476.51 L759.89,474.41 L761.61,472.38 L763.33,470.44 L765.05,468.56 L766.77,466.76 L768.49,465.03 L770.21,463.37 L771.93,461.78 L773.65,460.25 L775.38,458.79 L777.10,457.38 L778.82,456.04 L780.54,454.75 L782.26,453.52 L783.98,452.34 L785.70,451.21 L787.42,450.13 L789.14,449.10 L790.87,448.12 L792.59,447.18 L794.31,446.28 L796.03,445.42 L797.75,444.61 L799.47,443.83 L801.19,443.08 L802.91,442.37 L804.63,441.70 L806.36,441.05 L808.08,440.44 L809.80,439.85 L811.52,439.30 L813.24,438.76 L814.96,438.26 L816.68,437.78 L818.40,437.32 L820.12,436.88 L821.85,436.47 L823.57,436.07 L825.29,435.70 L827.01,435.34 L828.73,435.00 L830.45,434.67 L832.17,434.37 L833.89,434.07 L835.61,433.80 L837.34,433.53 L839.06,433.28 L840.78,433.04 L842.50,432.81 L844.22,432.60" stroke="#00ff00" stroke-width="4.7" stroke-dasharray="18.3 12 2.4 12" stroke-dashoffset="0"/>
</g>

<!-- frame -->
<g fill="none" stroke="#000" stroke-width="4.4" stroke-linecap="butt">
<path d="M835,297.3 L157.2,297.3 L157.2,954.5 L835,954.5" stroke-linejoin="miter"/>
</g>
<g stroke="#000" stroke-width="4.5" stroke-linecap="butt">
<line x1="372.10" y1="954.50" x2="372.10" y2="944.00"/>
<line x1="372.10" y1="297.30" x2="372.10" y2="308.30"/>
<line x1="586.70" y1="954.50" x2="586.70" y2="944.00"/>
<line x1="586.70" y1="297.30" x2="586.70" y2="308.30"/>
<line x1="801.30" y1="954.50" x2="801.30" y2="944.00"/>
<line x1="801.30" y1="297.30" x2="801.30" y2="308.30"/>
<line x1="264.80" y1="954.50" x2="264.80" y2="949.10"/>
<line x1="264.80" y1="297.30" x2="264.80" y2="303.00"/>
<line x1="479.40" y1="954.50" x2="479.40" y2="949.10"/>
<line x1="479.40" y1="297.30" x2="479.40" y2="303.00"/>
<line x1="694.00" y1="954.50" x2="694.00" y2="949.10"/>
<line x1="694.00" y1="297.30" x2="694.00" y2="303.00"/>
<line x1="157.50" y1="428.80" x2="168.20" y2="428.80"/>
<line x1="157.50" y1="560.30" x2="168.20" y2="560.30"/>
<line x1="157.50" y1="691.80" x2="168.20" y2="691.80"/>
<line x1="157.50" y1="823.30" x2="168.20" y2="823.30"/>
<line x1="157.50" y1="363.05" x2="163.10" y2="363.05"/>
<line x1="157.50" y1="494.55" x2="163.10" y2="494.55"/>
<line x1="157.50" y1="626.05" x2="163.10" y2="626.05"/>
<line x1="157.50" y1="757.55" x2="163.10" y2="757.55"/>
<line x1="157.50" y1="889.05" x2="163.10" y2="889.05"/>
</g>

<!-- tick labels -->
<text transform="translate(106.67,308.10) scale(1,1.045)" font-size="35.00" xml:space="preserve">25</text>
<text transform="translate(126.13,439.60) scale(1,1.045)" font-size="35.00" xml:space="preserve">0</text>
<text transform="translate(95.01,571.10) scale(1,1.045)" font-size="35.00" xml:space="preserve">-25</text>
<text transform="translate(95.01,702.60) scale(1,1.045)" font-size="35.00" xml:space="preserve">-50</text>
<text transform="translate(95.01,834.10) scale(1,1.045)" font-size="35.00" xml:space="preserve">-75</text>
<text transform="translate(75.55,965.60) scale(1,1.045)" font-size="35.00" xml:space="preserve">-100</text>
<text transform="translate(148.07,994.40) scale(1,1.045)" font-size="35.00" xml:space="preserve">6</text>
<text transform="translate(362.67,994.40) scale(1,1.045)" font-size="35.00" xml:space="preserve">8</text>
<text transform="translate(567.53,994.40) scale(1,1.045)" font-size="35.00" xml:space="preserve">10</text>
<text transform="translate(782.13,994.40) scale(1,1.045)" font-size="35.00" xml:space="preserve">12</text>

<!-- axis titles -->
<text transform="translate(534.42,1056.40) scale(1,1.000)" font-size="41.00" xml:space="preserve">r (fm)</text>
<text transform="translate(54.60,746.80) rotate(-90) translate(0.00,0.00) scale(1,1.045)" font-size="41.00" xml:space="preserve">V</text>
<text transform="translate(54.60,746.80) rotate(-90) translate(27.35,10.50) scale(1,1.045)" font-size="27.50" xml:space="preserve">0</text>
<text transform="translate(54.60,746.80) rotate(-90) translate(42.64,0.00) scale(1,1.000)" font-size="41.00" xml:space="preserve"> (r) (</text>
<text transform="translate(54.60,746.80) rotate(-90) translate(122.34,0.00) scale(1,1.045)" font-size="41.00" xml:space="preserve">M</text>
<text transform="translate(54.60,746.80) rotate(-90) translate(156.49,0.00) scale(1,1.000)" font-size="41.00" xml:space="preserve">e</text>
<text transform="translate(54.60,746.80) rotate(-90) translate(179.29,0.00) scale(1,1.045)" font-size="41.00" xml:space="preserve">V</text>
<text transform="translate(54.60,746.80) rotate(-90) translate(206.64,0.00) scale(1,1.000)" font-size="41.00" xml:space="preserve">)</text>

<!-- reaction label -->
<text transform="translate(208.80,363.70) scale(1,1.045)" font-size="33.30" xml:space="preserve">17</text>
<text transform="translate(246.14,383.00) scale(1,1.045)" font-size="48.50" xml:space="preserve">N</text>
<text transform="translate(281.16,383.00) scale(1,1.000)" font-size="48.50" xml:space="preserve">e + </text>
<text transform="translate(363.41,363.70) scale(1,1.045)" font-size="33.30" xml:space="preserve">208</text>
<text transform="translate(420.27,383.00) scale(1,1.045)" font-size="48.50" xml:space="preserve">P</text>
<text transform="translate(452.62,383.00) scale(1,1.000)" font-size="48.50" xml:space="preserve">b</text>

<!-- legend -->
<g fill="none" stroke-linecap="round" stroke-width="4.6">
<line x1="588.4" y1="784.4" x2="663" y2="784.4" stroke="#000"/>
<path d="M588.4,833.4 H603.1 M623.9,833.4 H638.5 M659.4,833.4 H663" stroke="#ff0000"/>
<path d="M588.4,874.6 H590.5 M609.2,874.6 H611.3 M630.1,874.6 H632.2 M651,874.6 H653.1" stroke="#0000ff"/>
<path d="M588.5,916.1 H607 M618.4,916.1 H620.8 M633.3,916.1 H651.8" stroke="#00ff00"/>
</g>
<text transform="translate(672.60,795.90) scale(1,1.045)" font-size="32.50" xml:space="preserve">V</text>
<text transform="translate(694.28,804.20) scale(1,1.045)" font-size="22.30" xml:space="preserve">0</text>
<text transform="translate(706.68,795.90) scale(1,1.000)" font-size="32.50" xml:space="preserve"> (r) (</text>
<text transform="translate(769.85,795.90) scale(1,1.045)" font-size="32.50" xml:space="preserve">P</text>
<text transform="translate(791.53,795.90) scale(1,1.000)" font-size="32.50" xml:space="preserve">resent </text>
<text transform="translate(898.11,795.90) scale(1,1.045)" font-size="32.50" xml:space="preserve">W</text>
<text transform="translate(928.78,795.90) scale(1,1.000)" font-size="32.50" xml:space="preserve">ork)</text>
<text transform="translate(672.30,844.30) scale(1,1.045)" font-size="32.50" xml:space="preserve">SPP</text>
<text transform="translate(672.10,885.50) scale(1,1.045)" font-size="32.50" xml:space="preserve">A</text>
<text transform="translate(695.57,885.50) scale(1,1.000)" font-size="32.50" xml:space="preserve">kyuz-</text>
<text transform="translate(778.65,885.50) scale(1,1.045)" font-size="32.50" xml:space="preserve">W</text>
<text transform="translate(809.32,885.50) scale(1,1.000)" font-size="32.50" xml:space="preserve">inther</text>
<text transform="translate(673.00,926.80) scale(1,1.045)" font-size="32.50" xml:space="preserve">R</text>
<text transform="translate(696.47,926.80) scale(1,1.000)" font-size="32.50" xml:space="preserve">ef. [</text>
<text transform="translate(754.25,926.80) scale(1,1.045)" font-size="32.50" xml:space="preserve">16</text>
<text transform="translate(790.40,926.80) scale(1,1.000)" font-size="32.50" xml:space="preserve">]</text>
</svg>
</body>
</html>
